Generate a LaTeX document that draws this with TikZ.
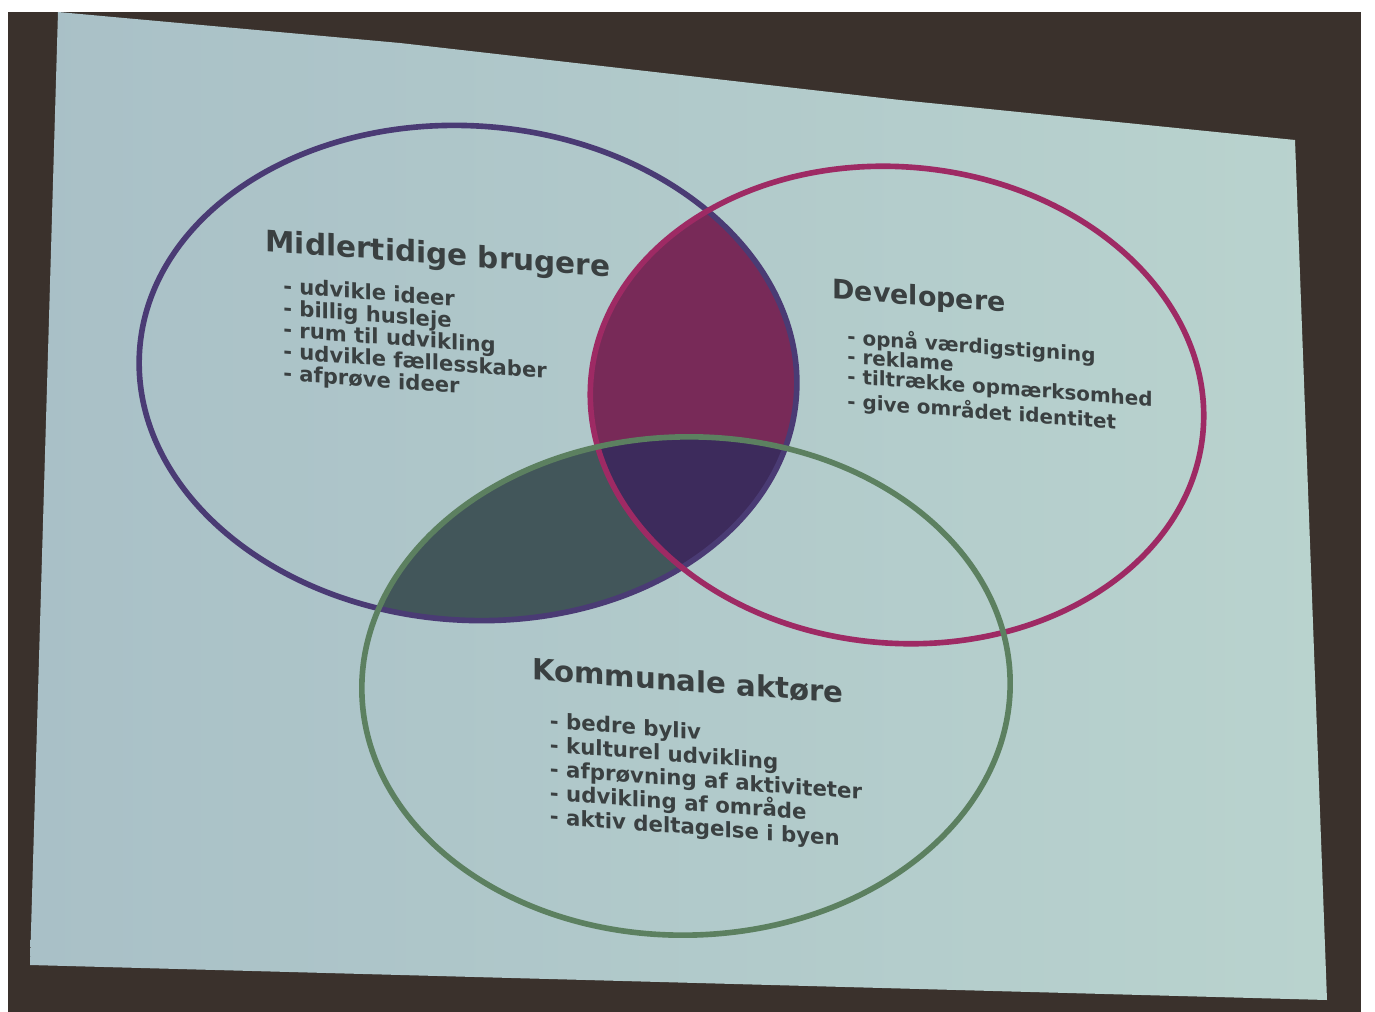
\documentclass[tikz,border=0pt]{standalone}
\usepackage{fontspec}
\setmainfont{DejaVu Sans}
\usetikzlibrary{positioning}
\definecolor{wallbrown}{HTML}{3A312C}
\definecolor{slideleft}{HTML}{A9C0C7}
\definecolor{slideright}{HTML}{B9D3CE}
\definecolor{textgrey}{HTML}{3A4041}
\definecolor{brugline}{HTML}{4A3B74}
\definecolor{devline}{HTML}{9E2A64}
\definecolor{kommline}{HTML}{5C8060}
\definecolor{brugdev}{HTML}{782A58}
\definecolor{brugkomm}{HTML}{42565A}
\definecolor{allthree}{HTML}{3D2B5C}
\begin{document}
\begin{tikzpicture}[x=0.01cm,y=-0.01cm,
    % the three rings
    brugshape/.style={rotate around={-4:(468,373)}},
    devshape/.style={rotate around={-5:(897,405)}},
    kommshape/.style={rotate around={1:(686,686)}},
    ring/.style={line width=1.6pt},
    % the texts
    heading/.style={font=\fontsize{#1}{#1}\selectfont\bfseries,text=textgrey,
      yslant=-0.075,inner sep=0pt},
    items/.style n args={2}{font=\fontsize{#1}{#2}\selectfont\bfseries,text=textgrey,
      yslant=-0.075,align=left,inner sep=0pt}]
  \useasboundingbox (0,0) rectangle (1375,1012);
  \fill[white] (0,0) rectangle (1375,1012);
  \fill[wallbrown] (8,12) rectangle (1361,1012);
  \shade[left color=slideleft,right color=slideright]
    (58,12) -- (400,43) -- (900,100) -- (1295,140) -- (1327,1000) -- (30,965) -- cycle;
  % overlaps
  \begin{scope}
    \clip[brugshape] (468,373) ellipse [x radius=3.29cm,y radius=2.47cm];
    \fill[brugdev,devshape] (897,405) ellipse [x radius=3.07cm,y radius=2.38cm];
    \fill[brugkomm,kommshape] (686,686) ellipse [x radius=3.24cm,y radius=2.49cm];
    \clip[devshape] (897,405) ellipse [x radius=3.07cm,y radius=2.38cm];
    \fill[allthree,kommshape] (686,686) ellipse [x radius=3.24cm,y radius=2.49cm];
  \end{scope}
  \draw[ring,brugline,brugshape] (468,373) ellipse [x radius=3.29cm,y radius=2.47cm];
  \draw[ring,devline,devshape] (897,405) ellipse [x radius=3.07cm,y radius=2.38cm];
  \draw[ring,kommline,kommshape] (686,686) ellipse [x radius=3.24cm,y radius=2.49cm];
  % labels
  \node (brug) [heading=8.4] at (438,256) {Midlertidige brugere};
  \node (brugitems) [items={6.0}{6.2}] at (415,341) {- udvikle ideer\\- billig husleje\\- rum til udvikling\\- udvikle fællesskaber\\- afprøve ideer};
  \node (dev) [heading=7.65] at (919,298) {Developere};
  \node (devitems) [items={5.65}{5.6}] at (1000,381) {- opnå værdigstigning\\- reklame\\- tiltrække opmærksomhed\\- give området identitet};
  \node (komm) [heading=8.3] at (688,681) {Kommunale aktøre};
  \node (kommitems) [items={6.05}{6.8}] at (706,782) {- bedre byliv\\- kulturel udvikling\\- afprøvning af aktiviteter\\- udvikling af område\\- aktiv deltagelse i byen};
\end{tikzpicture}
\end{document}
